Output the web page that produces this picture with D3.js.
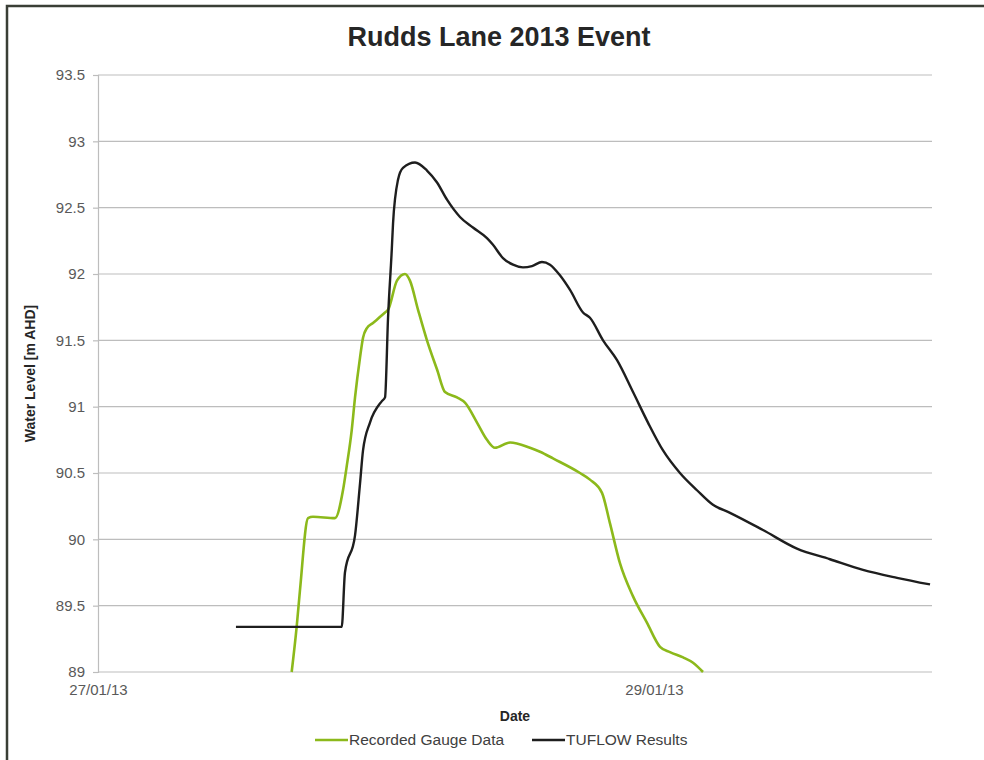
<!DOCTYPE html>
<html>
<head>
<meta charset="utf-8">
<script src="https://cdn.jsdelivr.net/npm/d3@7"></script>
<style>
  html, body { margin: 0; padding: 0; background: #fff; }
  svg { display: block; font-family: "Liberation Sans", Arial, sans-serif; }
</style>
</head>
<body>
<svg id="chart" width="984" height="760"></svg>
<script>
// ---- Data (hours since 27/01/13 00:00, water level m AHD) ----
const chartTitle = "Rudds Lane 2013 Event";
const seriesNames = ["Recorded Gauge Data", "TUFLOW Results"];
const seriesColors = ["#8cb91b", "#1e1e1e"];

const gaugeHours = [16.72, 17.15, 17.44, 18.13, 18.56, 20.46, 21.15, 21.47, 21.90, 22.19, 22.62, 22.88, 23.20, 23.74, 24.78, 25.04, 25.81, 26.50, 26.93, 27.63, 28.40, 29.27, 29.96, 30.99, 31.68, 32.72, 33.58, 34.27, 35.57, 37.29, 38.16, 39.28, 41.61, 42.47, 43.51, 44.20, 45.06, 46.19, 47.40, 48.52, 49.38, 50.51, 51.37, 52.23];
const gaugeLevels = [89.00, 89.34, 89.62, 90.16, 90.17, 90.16, 90.37, 90.55, 90.82, 91.07, 91.37, 91.52, 91.59, 91.63, 91.71, 91.73, 91.95, 92.00, 91.95, 91.73, 91.50, 91.28, 91.11, 91.07, 91.03, 90.88, 90.75, 90.69, 90.73, 90.69, 90.66, 90.61, 90.50, 90.45, 90.35, 90.12, 89.82, 89.57, 89.37, 89.19, 89.15, 89.11, 89.07, 89.00];

const tuflowHours = [11.91, 21.04, 21.32, 22.19, 22.62, 22.88, 23.48, 24.49, 24.78, 25.04, 25.36, 25.47, 25.90, 26.33, 27.37, 28.40, 29.27, 30.13, 31.25, 32.37, 33.58, 34.10, 34.96, 35.83, 36.69, 37.47, 38.33, 39.02, 39.88, 40.75, 41.87, 42.47, 43.60, 44.81, 46.19, 47.48, 48.78, 50.24, 51.71, 53.09, 54.56, 57.41, 60.34, 63.19, 66.04, 68.98, 71.83];
const tuflowLevels = [89.34, 89.34, 89.75, 90.03, 90.42, 90.67, 90.88, 91.04, 91.07, 91.67, 92.18, 92.38, 92.71, 92.80, 92.84, 92.78, 92.69, 92.56, 92.43, 92.35, 92.27, 92.22, 92.12, 92.07, 92.05, 92.06, 92.09, 92.07, 91.99, 91.88, 91.71, 91.67, 91.50, 91.35, 91.11, 90.88, 90.67, 90.50, 90.37, 90.26, 90.20, 90.07, 89.93, 89.85, 89.77, 89.71, 89.66];

const yTicks = [89, 89.5, 90, 90.5, 91, 91.5, 92, 92.5, 93, 93.5];
const xTickHours = [0, 48];
const xTickLabels = ["27/01/13", "29/01/13"];
const xAxisTitle = "Date";
const yAxisTitle = "Water Level [m AHD]";

// ---- Layout ----
const svg = d3.select("#chart");
const plot = { left: 98, right: 932, top: 75, bottom: 672 };

const x = d3.scaleLinear().domain([0, 72]).range([plot.left, plot.right]);
const y = d3.scaleLinear().domain([89, 93.5]).range([plot.bottom, plot.top]);

svg.append("rect").attr("width", 984).attr("height", 760).attr("fill", "#fff");

// frame (top & left dark border)
svg.append("path")
  .attr("d", "M7,760 L7,6 L984,6")
  .attr("fill", "none").attr("stroke", "#3a3e36").attr("stroke-width", 2.5);

// Title
svg.append("text")
  .attr("x", 499).attr("y", 46)
  .attr("text-anchor", "middle")
  .attr("font-size", 27).attr("font-weight", "bold")
  .attr("fill", "#262626")
  .text(chartTitle);

// Gridlines
svg.append("g").selectAll("line").data(yTicks).join("line")
  .attr("x1", plot.left).attr("x2", plot.right)
  .attr("y1", d => y(d)).attr("y2", d => y(d))
  .attr("stroke", "#bdbdbd").attr("stroke-width", 1.2);

// Y axis
const yAxis = d3.axisLeft(y).tickValues(yTicks).tickSize(5).tickPadding(8)
  .tickFormat(d => d3.format("")(d));
const yg = svg.append("g").attr("transform", `translate(${plot.left},0)`).call(yAxis);
yg.select(".domain").attr("stroke", "#bdbdbd").attr("stroke-width", 1.2);
yg.selectAll(".tick line").attr("stroke", "#bdbdbd").attr("stroke-width", 1.2);
yg.selectAll(".tick text").attr("font-size", 15).attr("fill", "#595959")
  .attr("font-family", "Liberation Sans, Arial, sans-serif");

// X axis (labels only)
const xAxis = d3.axisBottom(x).tickValues(xTickHours).tickSize(0).tickPadding(12)
  .tickFormat((d, i) => xTickLabels[i]);
const xg = svg.append("g").attr("transform", `translate(0,${plot.bottom})`).call(xAxis);
xg.select(".domain").remove();
xg.selectAll(".tick text").attr("font-size", 15).attr("fill", "#595959")
  .attr("font-family", "Liberation Sans, Arial, sans-serif");

// Axis titles
svg.append("text")
  .attr("x", (plot.left + plot.right) / 2).attr("y", 721)
  .attr("text-anchor", "middle").attr("font-size", 14).attr("font-weight", "bold")
  .attr("fill", "#262626").text(xAxisTitle);

svg.append("text")
  .attr("transform", `translate(35,${(plot.top + plot.bottom) / 2}) rotate(-90)`)
  .attr("text-anchor", "middle").attr("font-size", 14).attr("font-weight", "bold")
  .attr("fill", "#262626").text(yAxisTitle);

// Lines
const line = d3.line().x(d => x(d[0])).y(d => y(d[1])).curve(d3.curveMonotoneX);
const gaugeData = gaugeHours.map((h, i) => [h, gaugeLevels[i]]);
const tuflowData = tuflowHours.map((h, i) => [h, tuflowLevels[i]]);

svg.append("path").datum(gaugeData)
  .attr("d", line).attr("fill", "none")
  .attr("stroke", seriesColors[0]).attr("stroke-width", 2.6)
  .attr("stroke-linejoin", "round");

svg.append("path").datum(tuflowData)
  .attr("d", line).attr("fill", "none")
  .attr("stroke", seriesColors[1]).attr("stroke-width", 2.4)
  .attr("stroke-linejoin", "round");

// Legend
const legendItems = [
  { name: seriesNames[0], color: seriesColors[0], x0: 315 },
  { name: seriesNames[1], color: seriesColors[1], x0: 532 }
];
const lg = svg.append("g");
legendItems.forEach(it => {
  lg.append("line").attr("x1", it.x0).attr("x2", it.x0 + 33)
    .attr("y1", 740).attr("y2", 740)
    .attr("stroke", it.color).attr("stroke-width", 2.6);
  lg.append("text").attr("x", it.x0 + 34).attr("y", 745)
    .attr("font-size", 15.5).attr("fill", "#404040").text(it.name);
});
</script>
</body>
</html>
